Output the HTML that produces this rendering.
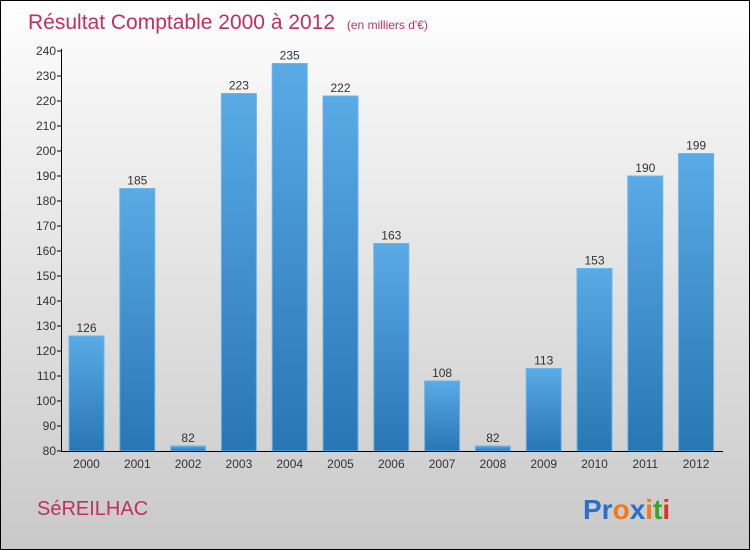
<!DOCTYPE html>
<html><head><meta charset="utf-8"><style>
body{margin:0}
#c{position:relative;width:750px;height:550px;box-sizing:border-box;border:1px solid #000;background:linear-gradient(#ffffff,#f2f2f2 20%,#c9c9c9);font-family:"Liberation Sans",sans-serif;overflow:hidden}
svg{position:absolute;left:0;top:0}
</style></head><body>
<div id="c">
<svg width="750" height="550" id="s">
<defs><linearGradient id="g" x1="0" y1="0" x2="0" y2="1"><stop offset="0" stop-color="#5aaae6"/><stop offset="1" stop-color="#2876b4"/></linearGradient></defs>
<text x="27" y="28" font-size="21" fill="#c0305e">Résultat Comptable 2000 à 2012 <tspan font-size="12" dx="6">(en milliers d'€)</tspan></text>
<text x="36" y="514" font-size="20" fill="#c0305e">SéREILHAC</text>
<text x="582" y="518" font-size="28" font-weight="bold"><tspan fill="#2a6fc8">Pr</tspan><tspan fill="#f07a1a">o</tspan><tspan fill="#2a6fc8">x</tspan><tspan fill="#f07a1a">i</tspan><tspan fill="#3aa52a">t</tspan><tspan fill="#e0302a">i</tspan></text>
<g id="plot"></g>
</svg></div>
<script>
const years=["2000","2001","2002","2003","2004","2005","2006","2007","2008","2009","2010","2011","2012"];
const values=[126,185,82,223,235,222,163,108,82,113,153,190,199];
const yTicks=[80,90,100,110,120,130,140,150,160,170,180,190,200,210,220,230,240];
const NS="http://www.w3.org/2000/svg";
const g=document.getElementById('plot');
const y=v=>450-(v-80)*2.5;
const x=i=>85.5+i*50.8;
function mk(t,a,txt){const e=document.createElementNS(NS,t);for(const k in a)e.setAttribute(k,a[k]);if(txt!==undefined)e.textContent=txt;g.appendChild(e);return e;}
yTicks.forEach(v=>{
 const l=mk('line',{x1:56,x2:61,y1:y(v),y2:y(v),stroke:'#000'});
 
 
 const t=mk('text',{x:55,y:y(v)+4,'font-size':12,fill:'#333','text-anchor':'end'},v);
 
 
});
values.forEach((v,i)=>{
 const r=mk('rect',{x:x(i)-17.5,y:y(v),width:35,height:450-y(v),fill:'url(#g)',stroke:'#6ab6ee','stroke-width':1});
 
 
 const t=mk('text',{x:x(i),y:y(v)-4,'font-size':12,fill:'#333','text-anchor':'middle'},v);
 
 
 const xl=mk('text',{x:x(i),y:467,'font-size':12,fill:'#333','text-anchor':'middle'},years[i]);
 
 
});
const ya=mk('line',{x1:60.5,x2:60.5,y1:48,y2:450,stroke:'#000'});


const xa=mk('line',{x1:60,x2:722,y1:450.5,y2:450.5,stroke:'#000'});


</script>
</body></html>
